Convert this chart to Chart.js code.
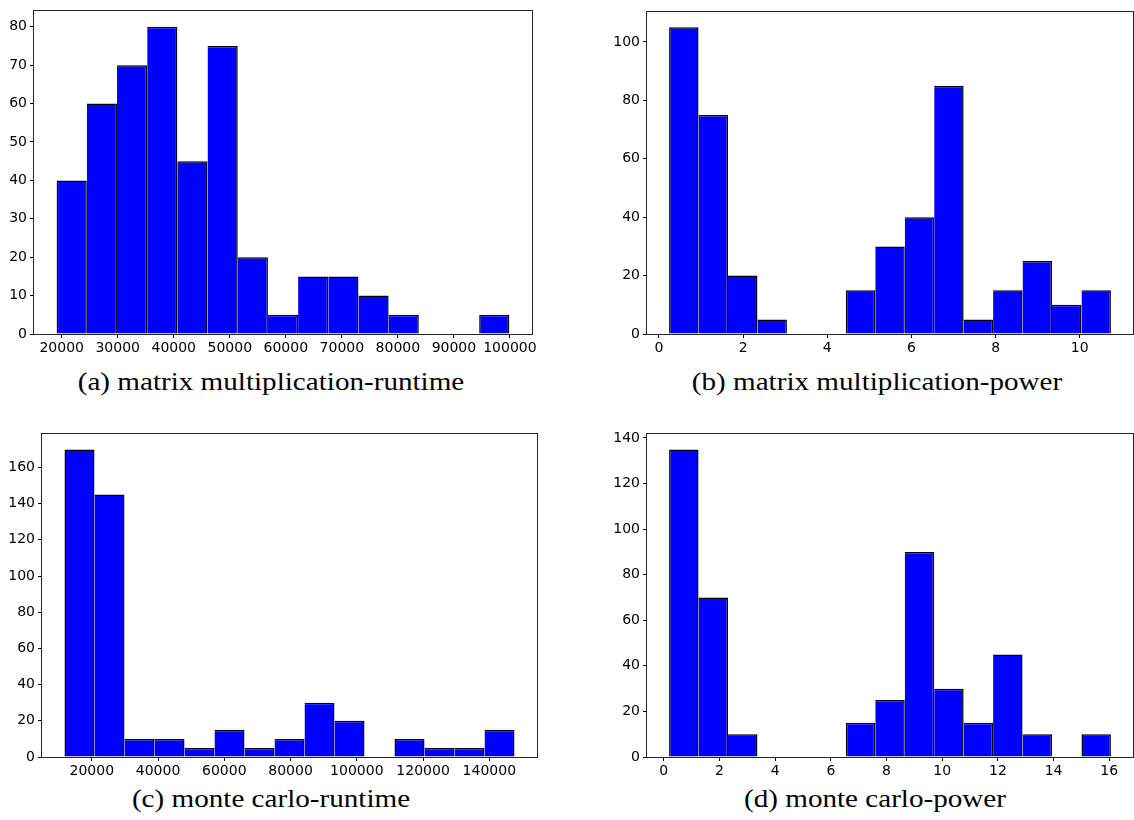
<!DOCTYPE html>
<html>
<head>
<meta charset="utf-8">
<title>Runtime and power histograms</title>
<script src="https://cdn.jsdelivr.net/npm/chart.js@4.4.0/dist/chart.umd.min.js"></script>
<style>
    body { margin: 0; background: #fff; }
    #page { position: relative; width: 1134px; height: 820px; overflow: hidden; }
    #page canvas { position: absolute; }
    .caption {
        position: absolute;
        width: 560px;
        text-align: center;
        font-family: "Liberation Serif", serif;
        font-size: 26px;
        line-height: 26px;
        color: #000;
        white-space: nowrap;
        transform: scaleX(1.12);
        transform-origin: center;
    }
</style>
</head>
<body>
<div id="page">
    <canvas id="histMmRuntime" width="560" height="360" style="left:0;top:0"></canvas>
    <canvas id="histMmPower" width="564" height="360" style="left:570px;top:0"></canvas>
    <canvas id="histMcRuntime" width="560" height="363" style="left:0;top:420px"></canvas>
    <canvas id="histMcPower" width="564" height="363" style="left:570px;top:420px"></canvas>

    <div class="caption" style="left:-9px;top:369px">(a) matrix multiplication-runtime</div>
    <div class="caption" style="left:597px;top:369px">(b) matrix multiplication-power</div>
    <div class="caption" style="left:-9px;top:786px">(c) monte carlo-runtime</div>
    <div class="caption" style="left:595px;top:786px">(d) monte carlo-power</div>
</div>

<script>
// Bin edges and counts (15 bins each)
const mmRuntimeEdges = [19100, 24487, 29873, 35260, 40647, 46033, 51420, 56807, 62193, 67580, 72967, 78353, 83740, 89127, 94513, 99900];
const mmRuntimeCounts = [40, 60, 70, 80, 45, 75, 20, 5, 15, 15, 10, 5, 0, 0, 5];
const mmRuntimeXTicks = [20000, 30000, 40000, 50000, 60000, 70000, 80000, 90000, 100000];
const mmRuntimeYTicks = [0, 10, 20, 30, 40, 50, 60, 70, 80];

const mmPowerEdges = [0.24, 0.94, 1.64, 2.34, 3.04, 3.74, 4.44, 5.14, 5.84, 6.54, 7.24, 7.94, 8.64, 9.34, 10.04, 10.74];
const mmPowerCounts = [105, 75, 20, 5, 0, 0, 15, 30, 40, 85, 5, 15, 25, 10, 15];
const mmPowerXTicks = [0, 2, 4, 6, 8, 10];
const mmPowerYTicks = [0, 20, 40, 60, 80, 100];

const mcRuntimeEdges = [11750, 20807, 29863, 38920, 47977, 57033, 66090, 75147, 84203, 93260, 102317, 111373, 120430, 129487, 138543, 147600];
const mcRuntimeCounts = [170, 145, 10, 10, 5, 15, 5, 10, 30, 20, 0, 10, 5, 5, 15];
const mcRuntimeXTicks = [20000, 40000, 60000, 80000, 100000, 120000, 140000];
const mcRuntimeYTicks = [0, 20, 40, 60, 80, 100, 120, 140, 160];

const mcPowerEdges = [0.19, 1.248, 2.306, 3.364, 4.422, 5.48, 6.538, 7.596, 8.654, 9.712, 10.77, 11.828, 12.886, 13.944, 15.002, 16.06];
const mcPowerCounts = [135, 70, 10, 0, 0, 0, 15, 25, 90, 30, 15, 45, 10, 0, 10];
const mcPowerXTicks = [0, 2, 4, 6, 8, 10, 12, 14, 16];
const mcPowerYTicks = [0, 20, 40, 60, 80, 100, 120, 140];

// box around the plot area, drawn over the bars
const frameBox = {
    id: 'frameBox',
    afterDraw(chart) {
        const { ctx, chartArea: a } = chart;
        ctx.save();
        ctx.strokeStyle = '#262626';
        ctx.lineWidth = 1;
        ctx.strokeRect(Math.round(a.left) - 0.5, Math.round(a.top) - 0.5,
            Math.round(a.right - a.left) + 1, Math.round(a.bottom - a.top) + 1);
        ctx.restore();
    }
};

const tickFont = { family: 'DejaVu Sans', size: 14 };
const edgeWidth = 1.5;

function axisGrid() {
    return {
        display: true, offset: false, drawOnChartArea: false, drawTicks: true,
        tickLength: 4, color: '#000', tickColor: '#000'
    };
}

function drawHistogram(canvasId, edges, counts, xTicks, yTicks, padding) {
    const lo = edges[0];
    const hi = edges[edges.length - 1];
    const span = hi - lo;
    const points = counts.map((c, i) => ({ x: (edges[i] + edges[i + 1]) / 2, y: c }));

    return new Chart(document.getElementById(canvasId), {
        type: 'bar',
        data: {
            datasets: [{
                data: points,
                backgroundColor: '#0000ff',
                borderColor: '#000',
                // adjacent bars share one edge line
                borderWidth: ctx => {
                    const i = ctx.dataIndex;
                    const left = (i === 0 || counts[i - 1] === 0) ? edgeWidth : 0;
                    return { top: edgeWidth, right: edgeWidth, bottom: 0, left: left };
                },
                borderSkipped: false,
                inflateAmount: 0,
                barPercentage: 1,
                categoryPercentage: 1
            }]
        },
        options: {
            responsive: false,
            animation: false,
            devicePixelRatio: 1,
            events: [],
            layout: { padding: padding },
            plugins: { legend: { display: false }, tooltip: { enabled: false } },
            scales: {
                x: {
                    type: 'linear',
                    offset: false,
                    min: lo - 0.05 * span,
                    max: hi + 0.05 * span,
                    afterBuildTicks: s => { s.ticks = xTicks.map(v => ({ value: v })); },
                    afterFit: s => { s.height = 26; },
                    grid: axisGrid(),
                    border: { display: false },
                    ticks: {
                        color: '#000', font: tickFont, padding: 2,
                        maxRotation: 0, autoSkip: false,
                        callback: v => String(v)
                    }
                },
                y: {
                    min: 0,
                    max: 1.05 * Math.max(...counts),
                    afterBuildTicks: s => { s.ticks = yTicks.map(v => ({ value: v })); },
                    afterFit: s => { s.width = 34; },
                    grid: axisGrid(),
                    border: { display: false },
                    ticks: {
                        color: '#000', font: tickFont, padding: 3,
                        autoSkip: false,
                        callback: v => String(v)
                    }
                }
            }
        },
        plugins: [frameBox]
    });
}

drawHistogram('histMmRuntime', mmRuntimeEdges, mmRuntimeCounts, mmRuntimeXTicks, mmRuntimeYTicks,
    { left: 0, top: 9, right: 28, bottom: 0 });
drawHistogram('histMmPower', mmPowerEdges, mmPowerCounts, mmPowerXTicks, mmPowerYTicks,
    { left: 43, top: 12, right: 1, bottom: 0 });
drawHistogram('histMcRuntime', mcRuntimeEdges, mcRuntimeCounts, mcRuntimeXTicks, mcRuntimeYTicks,
    { left: 8, top: 14, right: 23, bottom: 0 });
drawHistogram('histMcPower', mcPowerEdges, mcPowerCounts, mcPowerXTicks, mcPowerYTicks,
    { left: 43, top: 14, right: 1, bottom: 0 });
</script>
</body>
</html>
